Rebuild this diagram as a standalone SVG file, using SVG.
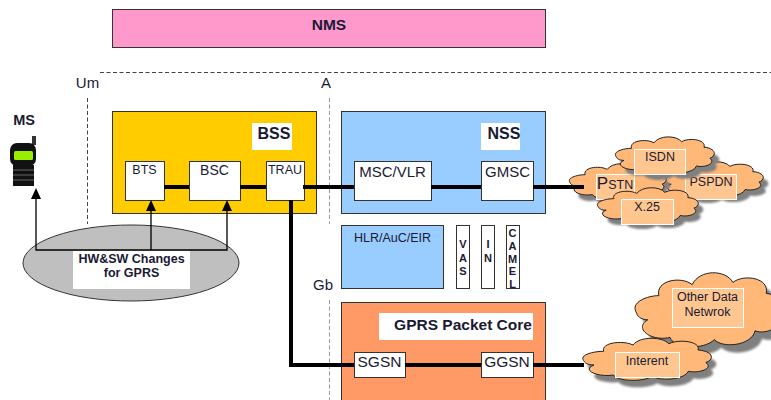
<svg xmlns="http://www.w3.org/2000/svg" width="771" height="400" viewBox="0 0 771 400">
<style>
text{font-family:"Liberation Sans",Arial,sans-serif;fill:#1a1a33;text-anchor:middle}
.b{font-weight:bold}
.box{stroke:#333;stroke-width:1}
.w{fill:#fff}
.thick{fill:none;stroke:#000;stroke-width:4}
.thin{fill:none;stroke:#000;stroke-width:1.3}
.dash{fill:none;stroke:#444;stroke-width:1;stroke-dasharray:4 2.5}
.dash2{fill:none;stroke:#999;stroke-width:1;stroke-dasharray:4 2.5}
.cl{fill:#ffb877;stroke:#222;stroke-width:1}
.sh{fill:#808080;stroke:none}
.sg{filter:url(#soft)}
.lab{fill:#ffc78f;stroke:#fff;stroke-width:1}
.t12{font-size:12.500px}
.n{font-size:15px}
.v{font-size:11px;font-weight:bold}
</style>
<defs>
<filter id="soft" x="-10%" y="-10%" width="120%" height="120%"><feGaussianBlur stdDeviation="0.8"/></filter>
<path id="cloud" vector-effect="non-scaling-stroke" d="M-.95,.05 C-1.05,-.2 -.8,-.35 -.65,-.35 C-.7,-.7 -.35,-.8 -.2,-.6 C-.1,-.95 .25,-.95 .35,-.65 C.5,-.85 .85,-.75 .8,-.4 C1.05,-.35 1.05,0 .92,.1 C1.05,.35 .8,.55 .65,.45 C.6,.8 .2,.85 .1,.65 C-.05,.9 -.45,.85 -.5,.6 C-.75,.7 -1,.4 -.8,.2 C-.9,.2 -.95,.1 -.95,.05Z"/>
</defs>
<rect width="771" height="400" fill="#fff"/>

<g id="nms"><rect class="box" x="112.500" y="9.500" width="433" height="38" fill="#ff99cc"/><text class="b" x="329" y="30" font-size="15.500">NMS</text></g>

<g id="interfaces">
<path class="dash" d="M100 72.500H771M87.500 98V224"/>
<path class="dash2" d="M329.500 98V224M329.500 300V400"/>
<text x="87.500" y="88" font-size="15">Um</text>
<text x="326" y="88" font-size="15">A</text>
<text x="323" y="290" font-size="15">Gb</text>
</g>

<g id="ms">
<text class="b" x="24" y="125" font-size="14.500">MS</text>
<rect x="32" y="136" width="4" height="9" fill="#333"/>
<rect x="10" y="143" width="26" height="23" rx="7" fill="#111"/>
<rect x="14" y="151" width="19" height="9" rx="1.500" fill="#99ee00"/>
<rect x="13" y="165" width="21" height="21" fill="#111"/>
<path d="M13 170H34M13 175H34M13 180H34" stroke="#666" stroke-width="1"/>
</g>

<g id="bss"><rect class="box" x="112.500" y="111.500" width="204" height="102" fill="#ffcc00"/><rect class="w" x="252" y="123" width="40" height="27"/><text class="b" x="274" y="139" font-size="16">BSS</text></g>
<g id="nss"><rect class="box" x="341.500" y="111.500" width="204" height="102" fill="#99ccff"/><rect class="w" x="481" y="123" width="39" height="27"/><text class="b" x="504" y="139" font-size="16">NSS</text></g>
<g id="hlr"><rect class="box" x="341.500" y="225.500" width="102" height="63" fill="#99ccff"/><text class="t12" x="392.500" y="242">HLR/AuC/EIR</text></g>
<g id="vas"><rect class="box w" x="456.500" y="225.500" width="13" height="63"/><text class="v" x="463" y="248">V</text><text class="v" x="463" y="262">A</text><text class="v" x="463" y="275">S</text></g>
<g id="in"><rect class="box w" x="481.500" y="225.500" width="13" height="63"/><text class="v" x="488" y="248">I</text><text class="v" x="488" y="262">N</text></g>
<g id="camel"><rect class="box w" x="506.500" y="225.500" width="13" height="63"/><text class="v" x="512.500" y="237">C</text><text class="v" x="512.500" y="250">A</text><text class="v" x="512.500" y="263">M</text><text class="v" x="512.500" y="275">E</text><text class="v" x="512.500" y="288">L</text></g>
<g id="gprs"><rect class="box" x="341.500" y="302.500" width="204" height="98" fill="#ff9966"/><rect class="w" x="379" y="313" width="154" height="27"/><text class="b" x="463" y="330" font-size="15.500">GPRS Packet Core</text></g>

<g id="hwsw"><ellipse cx="131" cy="263" rx="108" ry="38" fill="#bfbfbf" stroke="#333"/><rect class="w" x="73" y="251" width="117" height="38"/><text class="b t12" x="131.500" y="263">HW&amp;SW Changes</text><text class="b t12" x="131.500" y="277">for GPRS</text></g>

<g id="bts"><rect class="box w" x="125.500" y="161.500" width="39" height="39"/><text class="t12" x="144.500" y="174">BTS</text></g>
<g id="bsc"><rect class="box w" x="189.500" y="161.500" width="51" height="39"/><text x="214.500" y="175" font-size="14">BSC</text></g>
<g id="trau"><rect class="box w" x="266.500" y="161.500" width="38" height="39"/><text class="t12" x="285" y="174">TRAU</text></g>
<g id="msc"><rect class="box w" x="354.500" y="161.500" width="77" height="39"/><text class="n" x="392.500" y="177">MSC/VLR</text></g>
<g id="gmsc"><rect class="box w" x="481.500" y="161.500" width="52" height="39"/><text class="n" x="507.500" y="177">GMSC</text></g>
<g id="sgsn"><rect class="box w" x="354.500" y="352.500" width="51" height="25"/><text x="379.500" y="367" font-size="15.500">SGSN</text></g>
<g id="ggsn"><rect class="box w" x="481.500" y="352.500" width="52" height="25"/><text x="507" y="367" font-size="15.500">GGSN</text></g>

<g id="other-data">
<g class="sg"><use href="#cloud" class="sh" transform="translate(714 319) scale(74 44)"/></g>
<use href="#cloud" class="cl" transform="translate(707 311) scale(74 44)"/>
<rect class="lab" x="672.500" y="288.500" width="71" height="39"/><text class="t12" x="707.500" y="301">Other Data</text><text class="t12" x="707.500" y="316">Netwrok</text>
</g>
<g id="internet">
<g class="sg"><use href="#cloud" class="sh" transform="translate(651 367) scale(65 25)"/></g>
<use href="#cloud" class="cl" transform="translate(646 360) scale(65 25)"/>
<rect class="lab" x="615.500" y="352.500" width="64" height="25"/><text class="t12" x="647" y="365">Interent</text>
</g>
<g id="pspdn">
<g class="sg"><use href="#cloud" class="sh" transform="translate(717 186) scale(51 21)"/></g>
<use href="#cloud" class="cl" transform="translate(712 180) scale(51 21)"/>
<rect class="lab" x="685.500" y="174.500" width="51" height="25"/><text class="t12" x="711" y="186">PSPDN</text>
</g>
<g id="pstn">
<g class="sg"><use href="#cloud" class="sh" transform="translate(621 188) scale(49 21)"/></g>
<use href="#cloud" class="cl" transform="translate(617 182) scale(49 21)"/>
<rect class="lab" x="596.500" y="174.500" width="38" height="25"/><text x="615" y="189" font-size="12.500"><tspan font-size="17">P</tspan>STN</text>
</g>
<g id="isdn">
<g class="sg"><use href="#cloud" class="sh" transform="translate(669 162) scale(50 22)"/></g>
<use href="#cloud" class="cl" transform="translate(664 156) scale(50 22)"/>
<rect class="lab" x="634.500" y="149.500" width="51" height="25"/><text class="t12" x="660" y="161">ISDN</text>
</g>
<g id="x25">
<g class="sg"><use href="#cloud" class="sh" transform="translate(652 212) scale(51 21)"/></g>
<use href="#cloud" class="cl" transform="translate(647 206) scale(51 21)"/>
<rect class="lab" x="621.500" y="199.500" width="52" height="25"/><text class="t12" x="647" y="211">X.25</text>
</g>

<g id="connectors">
<path class="thick" d="M164 187H189M240 187H266M303 187H354M431 187H481M533 187H584M291 200V365H354M405 365H481M533 365H584"/>
<path class="thin" d="M36 197V250H227V208M151 250V208"/>
<path d="M36 188l5 11h-10zM151 200l5 11h-10zM227 200l5 11h-10z" fill="#000"/>
</g>
</svg>
